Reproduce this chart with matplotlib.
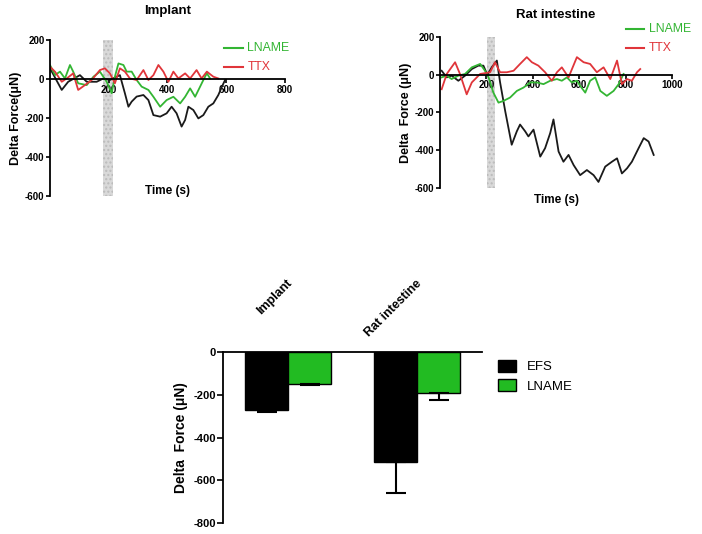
import numpy as np
import matplotlib.pyplot as plt

plt.rcParams['font.family'] = ['Liberation Sans', 'DejaVu Sans']
plt.rcParams['axes.unicode_minus'] = False

# ---- Implant traces (time s, delta force uN) ----
imp_efs_t = [0, 40, 62, 102, 125, 159, 182, 204, 238, 255, 267, 278, 295, 318, 335, 352, 375, 397,
             414, 431, 448, 460, 471, 488, 505, 522, 539, 556, 573, 585, 596]
imp_efs_y = [55, -56, -14, 20, -14, -14, 3, -5, 20, -73, -142, -116, -90, -82, -108, -185, -193, -176,
             -142, -176, -244, -210, -142, -159, -202, -185, -142, -125, -82, -40, -5]
imp_lname_t = [0, 17, 34, 51, 68, 79, 96, 125, 148, 170, 193, 210, 221, 233, 250, 261, 278, 295,
               312, 335, 352, 375, 397, 420, 443, 460, 477, 494, 511, 522, 534, 545]
imp_lname_y = [72, 20, 38, 3, 72, 38, -22, -31, 12, 38, -14, -73, 12, 80, 72, 38, 38, -5,
               -39, -56, -91, -142, -108, -91, -125, -91, -48, -91, -39, -5, 29, 3]
imp_ttx_t = [0, 17, 40, 57, 79, 96, 119, 142, 170, 187, 204, 221, 238, 255, 272, 295, 318, 335,
             352, 369, 386, 403, 420, 437, 460, 477, 499, 516, 534, 556, 573]
imp_ttx_y = [63, 38, -14, 3, 29, -56, -31, -5, 46, 55, 29, -22, 55, 38, 3, -5, 46, -5,
             20, 72, 38, -14, 38, 3, 29, 3, 46, 3, 38, 12, 3]

# ---- Rat intestine traces ----
rat_efs_t = [7, 29, 50, 79, 108, 137, 165, 187, 204, 223, 245, 259, 281, 309, 331, 345, 367, 381,
             403, 432, 453, 475, 489, 511, 532, 554, 576, 604, 633, 662, 683, 712, 741, 763,
             784, 806, 827, 856, 878, 899, 921]
rat_efs_y = [21, -14, -5, -32, -5, 30, 48, 48, 0, 39, 75, -41, -193, -371, -300, -264, -300, -327,
             -291, -434, -389, -309, -237, -407, -461, -425, -479, -532, -505, -532, -568, -487, -461, -443,
             -523, -496, -461, -389, -336, -354, -425]
rat_lname_t = [7, 29, 50, 79, 108, 137, 173, 194, 209, 230, 252, 273, 302, 331, 360, 389, 417, 446,
               475, 504, 525, 547, 568, 590, 604, 626, 647, 669, 691, 719, 748, 770, 791]
rat_lname_y = [-14, -5, -23, -5, 4, 39, 57, 21, -14, -95, -148, -139, -121, -86, -68, -41, -41, -50,
               -32, -23, -32, -14, -41, -32, -59, -95, -32, -14, -86, -112, -86, -50, 4]
rat_ttx_t = [7, 29, 65, 86, 115, 137, 173, 216, 237, 259, 288, 317, 345, 374, 396, 424, 453, 482,
             504, 525, 554, 590, 619, 647, 676, 705, 734, 763, 784, 806, 827, 849, 863]
rat_ttx_y = [-77, 4, 66, 4, -104, -41, 4, 13, 66, 13, 13, 21, 57, 93, 66, 48, 13, -32,
             13, 39, -14, 93, 66, 57, 13, 39, -23, 75, -50, -23, -32, 13, 30]

# ---- Bar summary ----
tissues = ['Implant', 'Rat intestine']
efs_mean = [-270, -515]
efs_err = [8, 145]
lname_mean = [-148, -190]
lname_err = [8, 35]

black = '#1a1a1a'
green = '#33b533'
red = '#e0353a'

fig = plt.figure(figsize=(7.02, 5.34), dpi=100)


def trace_axes(rect, title, title_pad, xmax, xticks, band, ylabel, traces, leg_xy, time_y):
    ax = fig.add_axes(rect)
    ax.axvspan(band[0], band[1], facecolor='#d9d9d9', edgecolor='#bbbbbb', hatch='....',
               linewidth=0, zorder=0)
    for t, y, c in traces:
        ax.plot(t, y, color=c, linewidth=1.3)
    ax.set_xlim(0, xmax)
    ax.set_ylim(-600, 200)
    ax.spines['top'].set_visible(False)
    ax.spines['right'].set_visible(False)
    ax.spines['bottom'].set_position(('data', 0))
    ax.spines['left'].set_linewidth(1.3)
    ax.spines['bottom'].set_linewidth(1.3)
    ax.set_yticks([200, 0, -200, -400, -600])
    ax.set_xticks(xticks)
    ax.tick_params(labelsize=7, width=1.2, length=3, pad=1)
    for lab in ax.get_xticklabels() + ax.get_yticklabels():
        lab.set_fontweight('bold')
    ax.set_title(title, fontsize=9.5, fontweight='bold', pad=title_pad)
    ax.set_ylabel(ylabel, fontsize=9, fontweight='bold', labelpad=2)
    ax.text(0.5, time_y, 'Time (s)', transform=ax.transAxes, ha='center', va='center',
            fontsize=8.5, fontweight='bold')
    lx, ly = leg_xy
    for i, (name, c) in enumerate([('LNAME', green), ('TTX', red)]):
        yy = ly - i * 0.12
        ax.plot([lx, lx + 0.08], [yy, yy], color=c, linewidth=1.5, transform=ax.transAxes,
                clip_on=False)
        ax.text(lx + 0.1, yy, name, color=c, fontsize=8.8, va='center', transform=ax.transAxes)
    return ax


trace_axes([0.0712, 0.633, 0.3348, 0.292], 'Implant', 19, 800, [200, 400, 600, 800], (181, 215),
           'Delta Force(\u03bcN)',
           [(imp_efs_t, imp_efs_y, black), (imp_lname_t, imp_lname_y, green),
            (imp_ttx_t, imp_ttx_y, red)],
           (0.74, 0.95), 0.03)

trace_axes([0.6268, 0.648, 0.3305, 0.2828], 'Rat intestine', 14, 1000, [200, 400, 600, 800, 1000],
           (203, 235), 'Delta  Force (\u03bcN)',
           [(rat_efs_t, rat_efs_y, black), (rat_lname_t, rat_lname_y, green),
            (rat_ttx_t, rat_ttx_y, red)],
           (0.80, 1.05), -0.08)

# ---- bar chart ----
ax = fig.add_axes([0.3177, 0.0206, 0.369, 0.32])
x = np.arange(len(tissues))
w = 0.333
ax.bar(x - w / 2, efs_mean, w, color='black', edgecolor='black', label='EFS')
ax.bar(x + w / 2, lname_mean, w, color='#22bb22', edgecolor='black', linewidth=1, label='LNAME')
ax.errorbar(x - w / 2, efs_mean, yerr=[efs_err, [0, 0]], fmt='none', ecolor='black',
            elinewidth=1.5, capsize=7, capthick=1.5)
ax.errorbar(x + w / 2, lname_mean, yerr=[lname_err, [0, 0]], fmt='none', ecolor='black',
            elinewidth=1.5, capsize=7, capthick=1.5)
ax.set_xlim(-0.504, 1.504)
ax.set_ylim(-800, 0)
ax.spines['right'].set_visible(False)
ax.spines['bottom'].set_visible(False)
ax.spines['top'].set_linewidth(1.3)
ax.spines['left'].set_linewidth(1.3)
ax.set_xticks([])
ax.set_yticks([0, -200, -400, -600, -800])
ax.tick_params(axis='y', labelsize=8, width=1.2, length=4, pad=1)
for lab in ax.get_yticklabels():
    lab.set_fontweight('bold')
ax.set_ylabel('Delta  Force (\u03bcN)', fontsize=10, fontweight='bold', labelpad=4)
for xi, name in zip(x, tissues):
    ax.text(xi + 0.02, 330, name, rotation=45, rotation_mode='anchor', ha='right', va='center',
            fontsize=9, fontweight='bold', clip_on=False)
ax.legend(loc='upper left', bbox_to_anchor=(1.03, 1.0), frameon=False, fontsize=9.5,
          handlelength=1.4, handleheight=1.0, borderaxespad=0.2, labelspacing=0.45)

fig.savefig('out.png', dpi=100)
